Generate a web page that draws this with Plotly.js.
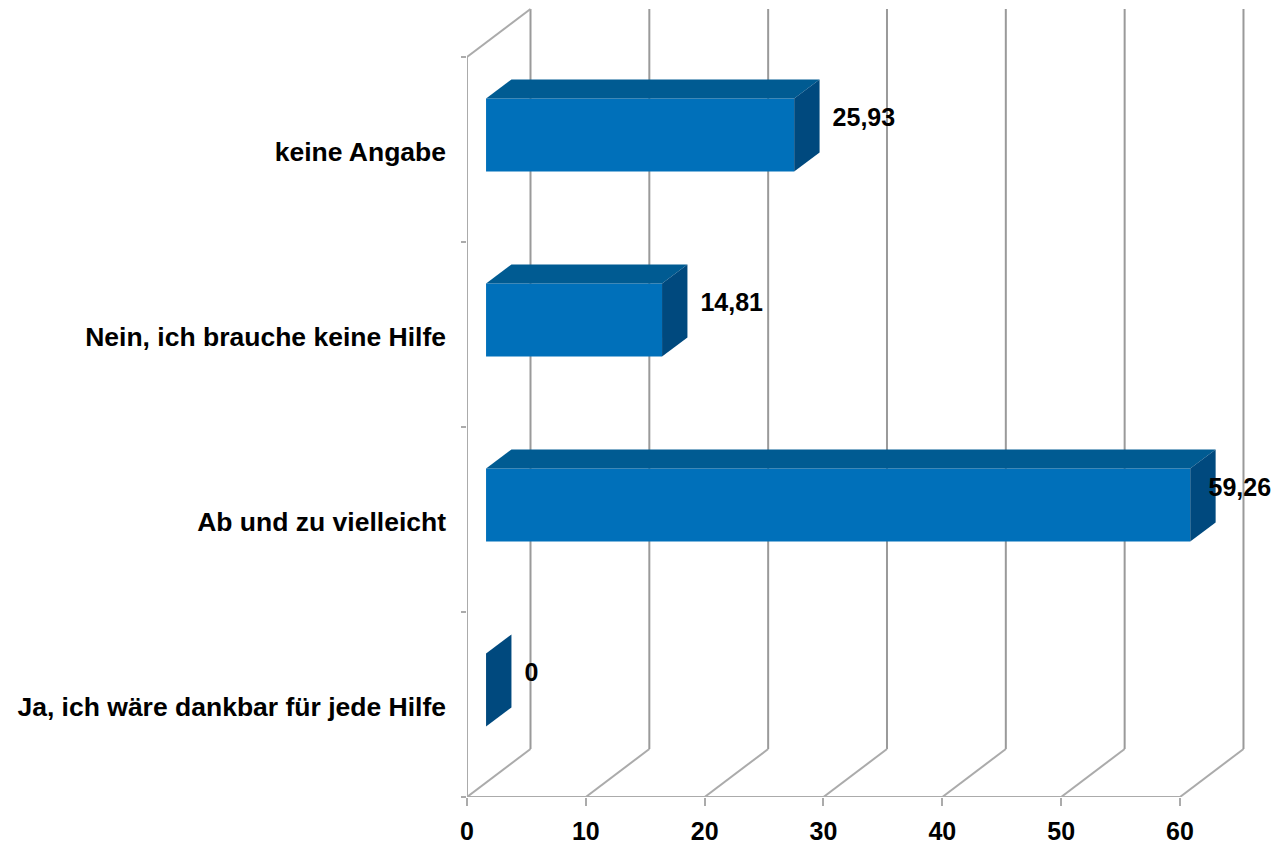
<!DOCTYPE html>
<html>
<head>
<meta charset="utf-8">
<script src="https://cdn.plot.ly/plotly-3.0.1.min.js"></script>
<style>html,body{margin:0;padding:0;background:#fff}#chart{width:1280px;height:845px}</style>
</head>
<body>
<div id="chart"></div>
<script>
// ---- data ----
const categories = ['Ja, ich wäre dankbar für jede Hilfe', 'Ab und zu vielleicht', 'Nein, ich brauche keine Hilfe', 'keine Angabe'];
const values = [0, 59.26, 14.81, 25.93];
const valueLabels = ['0', '59,26', '14,81', '25,93'];
const xTickVals = [0, 10, 20, 30, 40, 50, 60];
const xTickText = ['0', '10', '20', '30', '40', '50', '60'];

// ---- geometry / style (pixel scale of the axes) ----
const W = 1280, H = 845;
const ML = 467, MR = 18, MT = 0, MB = 48;
const PXX = 11.883;          // px per value unit
const PXY = 185;             // px per category
const XMAX = (W - ML - MR) / PXX;
const YMAX = (H - MT - MB) / PXY;
const DX = 63.5 / PXX, DY = 48 / PXY;          // depth of the box
const F1 = 0.3, F2 = 0.7;                      // bar depth placement
const HALF = 36.5 / PXY;                       // half bar height
const GAP = 13 / PXX;
const NCAT = categories.length;
const XEND = xTickVals[xTickVals.length - 1];

const gridColor = '#9a9a9a', wallColor = '#ababab';
const cFront = '#0070BA', cTop = '#005B92', cSide = '#00497E';

const traces = [];
// back wall vertical gridlines
{
  const x = [], y = [];
  xTickVals.forEach(t => { x.push(t + DX, t + DX, null); y.push(DY, NCAT + DY, null); });
  traces.push({x, y, mode: 'lines', line: {color: gridColor, width: 2}, hoverinfo: 'skip'});
}
// floor diagonals + left wall + front axis line
{
  const x = [], y = [];
  xTickVals.forEach(t => { x.push(t, t + DX, null); y.push(0, DY, null); });
  x.push(0, DX, null); y.push(NCAT, NCAT + DY, null);
  x.push(0, 0, null); y.push(0, NCAT, null);
  x.push(0, XEND, null); y.push(0, 0, null);
  traces.push({x, y, mode: 'lines', line: {color: wallColor, width: 2}, hoverinfo: 'skip'});
}
// bars
const poly = (xs, ys, color) => ({
  x: xs.concat([xs[0]]), y: ys.concat([ys[0]]), mode: 'lines', fill: 'toself',
  fillcolor: color, line: {width: 0, color: color}, hoverinfo: 'skip'
});
const lx = [], ly = [];
values.forEach((v, i) => {
  const c = i + 0.5;
  const x0 = F1 * DX, x1 = v + F1 * DX;
  const yb = c - HALF + F1 * DY, yt = c + HALF + F1 * DY;
  const ddx = (F2 - F1) * DX, ddy = (F2 - F1) * DY;
  if (v > 0) {
    traces.push(poly([x0, x1, x1, x0], [yb, yb, yt, yt], cFront));
    traces.push(poly([x0, x1, x1 + ddx, x0 + ddx], [yt, yt, yt + ddy, yt + ddy], cTop));
  }
  traces.push(poly([x1, x1 + ddx, x1 + ddx, x1], [yb, yb + ddy, yt + ddy, yt], cSide));
  lx.push(Math.min(x1 + ddx + GAP, XMAX - 4.5));
  ly.push(c + F2 * DY - 0.02);
});
traces.push({
  x: lx, y: ly, mode: 'text', text: valueLabels, textposition: 'middle right',
  textfont: {family: 'Liberation Sans, Arial, sans-serif', size: 25, color: '#000', weight: 700},
  cliponaxis: false, hoverinfo: 'skip'
});

const layout = {
  width: W, height: H,
  margin: {l: ML, r: MR, t: MT, b: MB, pad: 0},
  paper_bgcolor: '#fff', plot_bgcolor: '#fff',
  showlegend: false, hovermode: false,
  xaxis: {
    range: [0, XMAX], fixedrange: true,
    showgrid: false, zeroline: false, showline: false,
    tickmode: 'array', tickvals: xTickVals, ticktext: xTickText,
    ticks: 'outside', ticklen: 8, tickwidth: 2, tickcolor: wallColor,
    ticklabelstandoff: 4,
    tickfont: {family: 'Liberation Sans, Arial, sans-serif', size: 25, color: '#000', weight: 700}
  },
  yaxis: {
    range: [0, YMAX], fixedrange: true,
    showgrid: false, zeroline: false, showline: false,
    tickmode: 'array', tickvals: categories.map((_, i) => i + 0.5 - 0.013), ticktext: categories,
    ticks: '', ticklabelstandoff: 20,
    tickfont: {family: 'Liberation Sans, Arial, sans-serif', size: 26.5, color: '#000', weight: 700},
    minor: {tickmode: 'array', tickvals: categories.map((_, i) => i).concat([NCAT]),
            ticks: 'outside', ticklen: 5, tickwidth: 2, tickcolor: wallColor, showgrid: false}
  }
};

Plotly.newPlot('chart', traces, layout, {displayModeBar: false, staticPlot: true});
</script>
</body>
</html>
